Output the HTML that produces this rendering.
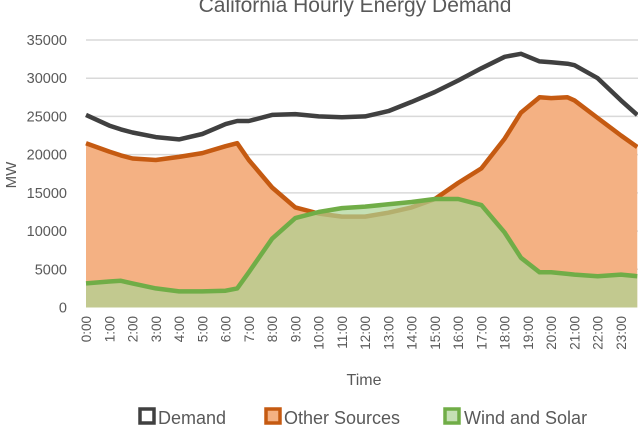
<!DOCTYPE html>
<html><head><meta charset="utf-8"><style>
html,body{margin:0;padding:0;background:#fff;}
svg{display:block;font-family:"Liberation Sans",sans-serif;}
</style></head><body>
<svg id="chart" width="638" height="428" viewBox="0 0 638 428">
<text x="355" y="12" text-anchor="middle" font-size="21" fill="#595959">California Hourly Energy Demand</text>
<g id="grid"></g>
<g id="series"></g>
<g id="yticks"></g>
<g id="xticks"></g>
<text transform="translate(16,175) rotate(-90)" text-anchor="middle" font-size="15" fill="#595959">MW</text>
<text x="364" y="385" text-anchor="middle" font-size="16" fill="#595959">Time</text>
<g font-size="18" fill="#595959">
 <g>
  <rect x="140" y="409" width="14" height="14" fill="#fff" stroke="#404040" stroke-width="3.5"/>
  <text x="158" y="424">Demand</text></g>
 <g>
  <rect x="266" y="409" width="14" height="14" fill="#f4b183" stroke="#c55a11" stroke-width="3.5"/>
  <text x="284" y="424">Other Sources</text></g>
 <g>
  <rect x="445" y="409" width="14" height="14" fill="#c5e0b4" stroke="#70ad47" stroke-width="3.5"/>
  <text x="464" y="424">Wind and Solar</text></g>
</g>
</svg>
<script>
const hours  = [0,1,1.5,2,3,4,5,6,6.5,7,8,9,10,11,12,13,14,15,16,17,18,18.7,19.5,20,20.7,21,22,23,23.7];
const demand = [25200,23800,23300,22900,22300,22000,22700,24000,24400,24400,25200,25300,25000,24900,25000,25700,26900,28200,29700,31300,32800,33200,32200,32100,31900,31700,30000,27100,25200];
const other  = [21500,20400,19900,19500,19300,19700,20200,21100,21500,19300,15700,13100,12300,11900,11900,12400,13100,14200,16300,18200,22100,25500,27500,27400,27500,27100,24800,22500,21000];
const wind   = [3150,3400,3500,3150,2500,2100,2100,2200,2500,4600,9000,11700,12500,13000,13200,13500,13800,14200,14200,13400,9800,6500,4600,4600,4400,4300,4100,4300,4100];
const yTicks = [0,5000,10000,15000,20000,25000,30000,35000];
const xTickLabels = ["0:00","1:00","2:00","3:00","4:00","5:00","6:00","7:00","8:00","9:00","10:00","11:00","12:00","13:00","14:00","15:00","16:00","17:00","18:00","19:00","20:00","21:00","22:00","23:00"];

const NS="http://www.w3.org/2000/svg";
const X0=86, XS=23.26, Y0=307.5, YT=40, YMAX=35000;
const xs=h=>X0+h*XS;
const ys=v=>Y0-(v/YMAX)*(Y0-YT);
function mk(tag,attrs,parent){const e=document.createElementNS(NS,tag);for(const k in attrs)e.setAttribute(k,attrs[k]);parent.appendChild(e);return e;}
const grid=document.getElementById('grid'),ser=document.getElementById('series'),yt=document.getElementById('yticks'),xt=document.getElementById('xticks');
yTicks.forEach(v=>{
  if(v>0){const l=mk('line',{x1:X0,x2:638,y1:ys(v),y2:ys(v),stroke:'#d9d9d9','stroke-width':1.5},grid);
  
  }
  const t=mk('text',{x:67,y:ys(v)+5,'text-anchor':'end','font-size':14.5,fill:'#595959'},yt);
  t.textContent=v;
  
  
});
xTickLabels.forEach((s,i)=>{
  const x=xs(i);
  const t=mk('text',{transform:`translate(${x+5},316) rotate(-90)`,'text-anchor':'end','font-size':13.5,fill:'#595959'},xt);
  t.textContent=s;
  
  
});
function linePts(arr){return arr.map((v,i)=>xs(hours[i]).toFixed(1)+','+ys(v).toFixed(1)).join(' ');}
function areaPts(arr){const last=hours.length-1;return xs(hours[0])+','+ys(0)+' '+linePts(arr)+' '+xs(hours[last])+','+ys(0);}
const oa=mk('polygon',{points:areaPts(other),fill:'#f4b183'},ser);


const ol=mk('polyline',{points:linePts(other),fill:'none',stroke:'#c55a11','stroke-width':4.5,'stroke-linejoin':'round'},ser);


const wa=mk('polygon',{points:areaPts(wind),fill:'rgba(172,211,148,0.7)'},ser);


const wl=mk('polyline',{points:linePts(wind),fill:'none',stroke:'#70ad47','stroke-width':4.5,'stroke-linejoin':'round'},ser);


const dl=mk('polyline',{points:linePts(demand),fill:'none',stroke:'#404040','stroke-width':4.5,'stroke-linejoin':'round'},ser);


</script>
</body></html>
